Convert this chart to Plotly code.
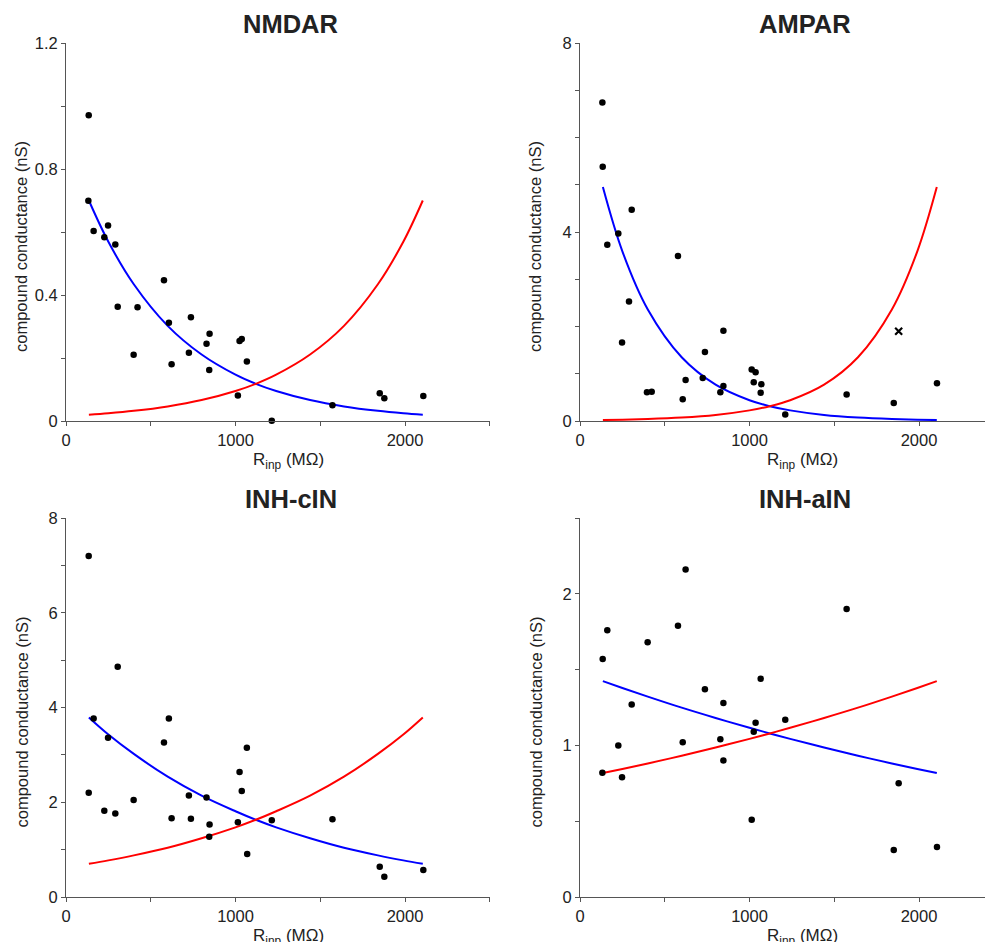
import plotly.graph_objects as go

# ---------------- data ----------------
nmdar_x = [134, 132, 163, 226, 248, 291, 305, 422, 399, 578, 607, 623, 737, 725, 847, 829, 845,
           1024, 1037, 1067, 1014, 1214, 1572, 1851, 1878, 2108]
nmdar_y = [0.971, 0.699, 0.603, 0.583, 0.621, 0.560, 0.363, 0.361, 0.210, 0.447, 0.312, 0.180, 0.329,
           0.217, 0.277, 0.245, 0.162, 0.254, 0.260, 0.189, 0.081, 0.001, 0.050, 0.088, 0.072, 0.079]

ampar_x = [132, 134, 161, 226, 248, 289, 305, 395, 423, 578, 606, 623, 724, 737, 828, 846, 846,
           1013, 1036, 1025, 1070, 1066, 1211, 1573, 1851, 2106]
ampar_y = [6.74, 5.38, 3.73, 3.97, 1.66, 2.53, 4.47, 0.61, 0.62, 3.49, 0.46, 0.87, 0.91, 1.46, 0.61,
           0.74, 1.91, 1.09, 1.03, 0.82, 0.78, 0.60, 0.14, 0.56, 0.38, 0.80]
ampar_excl_x = [1880]
ampar_excl_y = [1.90]

cin_x = [134, 163, 134, 248, 226, 291, 305, 399, 578, 607, 623, 725, 737, 829, 847, 845,
         1014, 1024, 1037, 1067, 1069, 1214, 1572, 1851, 1878, 2108]
cin_y = [7.20, 3.77, 2.20, 3.36, 1.82, 1.76, 4.86, 2.05, 3.26, 3.77, 1.66, 2.14, 1.65, 2.10, 1.53,
         1.27, 1.58, 2.64, 2.24, 3.15, 0.91, 1.62, 1.64, 0.64, 0.43, 0.57]

ain_x = [623, 1573, 578, 161, 399, 134, 1066, 737, 846, 305, 1211, 1036, 1025, 828, 606, 226,
         846, 132, 248, 1880, 1013, 1851, 2106]
ain_y = [2.16, 1.90, 1.79, 1.76, 1.68, 1.57, 1.44, 1.37, 1.28, 1.27, 1.17, 1.15, 1.09, 1.04, 1.02,
         1.00, 0.90, 0.82, 0.79, 0.75, 0.51, 0.31, 0.33]

# fitted curves (values read at common knots)
curve_x = [135, 250, 400, 600, 800, 1000, 1120, 1240, 1440, 1640, 1840, 1990, 2105]
nmdar_blue = [0.700, 0.569, 0.434, 0.302, 0.211, 0.147, 0.118, 0.0953, 0.0664, 0.0463, 0.0323, 0.0246, 0.020]
nmdar_red = [0.020, 0.0246, 0.0323, 0.0463, 0.0664, 0.0953, 0.118, 0.147, 0.211, 0.302, 0.434, 0.569, 0.700]
ampar_blue = [4.95, 3.59, 2.36, 1.35, 0.770, 0.440, 0.314, 0.225, 0.128, 0.0734, 0.0420, 0.0276, 0.020]
ampar_red = [0.020, 0.0276, 0.0420, 0.0734, 0.128, 0.225, 0.314, 0.440, 0.770, 1.35, 2.36, 3.59, 4.95]
cin_blue = [3.79, 3.43, 3.02, 2.54, 2.14, 1.81, 1.63, 1.47, 1.24, 1.04, 0.879, 0.773, 0.70]
cin_red = [0.70, 0.773, 0.879, 1.04, 1.24, 1.47, 1.63, 1.81, 2.14, 2.54, 3.02, 3.43, 3.79]
ain_blue = [1.424, 1.379, 1.322, 1.249, 1.181, 1.116, 1.079, 1.043, 0.986, 0.932, 0.881, 0.845, 0.818]
ain_red = [0.818, 0.845, 0.881, 0.932, 0.986, 1.043, 1.079, 1.116, 1.181, 1.249, 1.322, 1.379, 1.424]

titles = ["NMDAR", "AMPAR", "INH-cIN", "INH-aIN"]
x_major, x_minor = 1000, 500
# (major step, minor step, range)
y_ticks = [
    (0.4, 0.2, [0, 1.2]),
    (4, 1, [0, 8]),
    (2, 1, [0, 8]),
    (1, 0.5, [0, 2.5]),
]

# ---------------- layout geometry (pixels, page coords; page body has 8px margin) ----------------
OFF = 8
W, H = 993 - OFF, 942 - OFF
px_per_unit = 169.5 / 1000.0
panels = [
    dict(x0=66, x1=490, y0=43, y1=421),
    dict(x0=580, x1=993, y0=43, y1=421),
    dict(x0=66, x1=490, y0=518, y1=897),
    dict(x0=580, x1=993, y0=518, y1=897),
]

FONT = "Liberation Sans, Arial, sans-serif"
TXT = "#222222"
AX = "#555555"


def fx(px):
    return (px - OFF) / W


def fy(py):
    return 1 - (py - OFF) / H


fig = go.Figure()
series = [
    (nmdar_x, nmdar_y, nmdar_blue, nmdar_red),
    (ampar_x, ampar_y, ampar_blue, ampar_red),
    (cin_x, cin_y, cin_blue, cin_red),
    (ain_x, ain_y, ain_blue, ain_red),
]

for i, (sx, sy, bl, rd) in enumerate(series):
    n = "" if i == 0 else str(i + 1)
    xa, ya = "x" + n, "y" + n
    fig.add_trace(go.Scatter(x=curve_x, y=bl, mode="lines", line=dict(color="#0000ff", width=2, shape="spline"),
                             xaxis=xa, yaxis=ya, showlegend=False, hoverinfo="skip"))
    fig.add_trace(go.Scatter(x=curve_x, y=rd, mode="lines", line=dict(color="#ff0000", width=2, shape="spline"),
                             xaxis=xa, yaxis=ya, showlegend=False, hoverinfo="skip"))
    fig.add_trace(go.Scatter(x=sx, y=sy, mode="markers", marker=dict(color="black", size=6.5),
                             xaxis=xa, yaxis=ya, showlegend=False, cliponaxis=False))
    if i == 1:
        fig.add_trace(go.Scatter(x=ampar_excl_x, y=ampar_excl_y, mode="markers",
                                 marker=dict(symbol="x-thin", size=7, line=dict(color="black", width=2.2)),
                                 xaxis=xa, yaxis=ya, showlegend=False))

    p = panels[i]
    xdom = [fx(p["x0"]), min(1.0, fx(p["x1"]))]
    ydom = [fy(p["y1"]), fy(p["y0"])]
    xmax = (p["x1"] - p["x0"]) / px_per_unit
    ymaj, ymin, yr = y_ticks[i]
    axis_common = dict(showgrid=False, zeroline=False, showline=True, linecolor=AX, linewidth=1,
                       ticks="outside", ticklen=4, tickcolor=AX, tickwidth=1, automargin=False,
                       tickfont=dict(family=FONT, size=16.5, color=TXT))
    fig.update_layout(**{
        ("xaxis" + n): dict(domain=xdom, range=[0, xmax], anchor=ya, tick0=0, dtick=x_major,
                            minor=dict(ticks="outside", dtick=x_minor, ticklen=4, tickcolor=AX, showgrid=False),
                            **axis_common),
        ("yaxis" + n): dict(domain=ydom, range=yr, anchor=xa, tick0=0, dtick=ymaj,
                            minor=dict(ticks="outside", dtick=ymin, ticklen=4, tickcolor=AX, showgrid=False),
                            **axis_common),
    })

    cx = (p["x0"] + 2500 * px_per_unit / 2)
    # panel title
    fig.add_annotation(text="<b>" + titles[i] + "</b>", xref="paper", yref="paper",
                       x=fx(cx + 13), y=fy(p["y0"] - 19), xanchor="center", yanchor="middle",
                       showarrow=False, font=dict(family=FONT, size=25.5, color=TXT))
    # x-axis title
    fig.add_annotation(text="R<sub>inp</sub> (MΩ)", xref="paper", yref="paper",
                       x=fx(cx + 11), y=fy(p["y1"] + 27), xanchor="center", yanchor="top",
                       showarrow=False, font=dict(family=FONT, size=17, color=TXT))
    # y-axis title
    fig.add_annotation(text="compound conductance (nS)", xref="paper", yref="paper",
                       x=fx(p["x0"] - 45), y=fy((p["y0"] + p["y1"]) / 2 + 15),
                       xanchor="center", yanchor="middle", textangle=-90,
                       showarrow=False, font=dict(family=FONT, size=16.5, color=TXT))

fig.update_layout(template="none", width=W, height=H, margin=dict(l=0, r=0, t=0, b=0, autoexpand=False),
                  paper_bgcolor="white", plot_bgcolor="white")
fig.write_html("out.html")
